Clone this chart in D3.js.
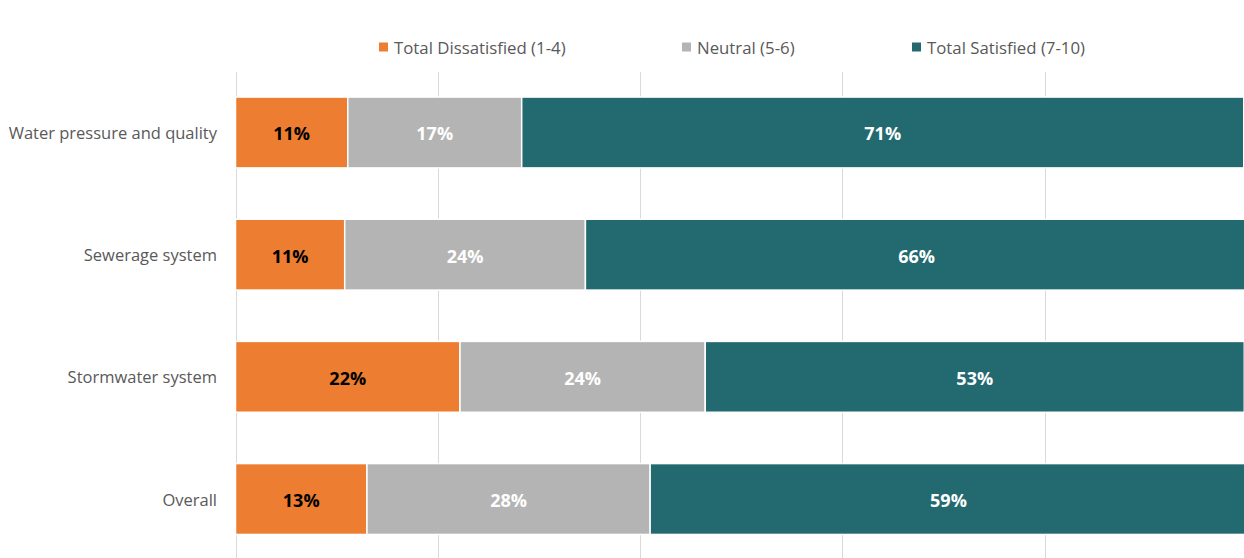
<!DOCTYPE html>
<html>
<head>
<meta charset="utf-8">
<script src="https://cdn.jsdelivr.net/npm/d3@7"></script>
<style>
html,body{margin:0;padding:0;background:#fff;}
svg{display:block;font-family:"Open Sans","Lato",sans-serif;}
</style>
</head>
<body>
<svg id="chart" width="1244" height="558"></svg>
<script>
const categories = ["Water pressure and quality", "Sewerage system", "Stormwater system", "Overall"];
const seriesNames = ["Total Dissatisfied (1-4)", "Neutral (5-6)", "Total Satisfied (7-10)"];
const dissatisfied = [11.1, 10.8, 22.2, 13.0];
const neutral = [17.2, 23.8, 24.25, 28.0];
const satisfied = [71.4, 65.5, 53.3, 59.0];
const dissatisfiedLabels = ["11%", "11%", "22%", "13%"];
const neutralLabels = ["17%", "24%", "24%", "28%"];
const satisfiedLabels = ["71%", "66%", "53%", "59%"];
const xTicks = [0, 20, 40, 60, 80, 100];
const colors = ["#ED7D31", "#B4B4B4", "#236A70"];
const labelColors = ["#000000", "#FFFFFF", "#FFFFFF"];

const svg = d3.select("#chart");
const x = d3.scaleLinear().domain([0, 100]).range([235.5, 1246.8]);
const y = d3.scaleBand().domain(categories).range([71.4, 560.1]).paddingInner(0.42).paddingOuter(0.21);

// gridlines
svg.append("g").selectAll("line").data(xTicks).join("line")
  .attr("x1", d => Math.round(x(d)) + 0.5).attr("x2", d => Math.round(x(d)) + 0.5)
  .attr("y1", 72).attr("y2", 560)
  .attr("stroke", "#D9D9D9").attr("stroke-width", 1);

const values = [dissatisfied, neutral, satisfied];
const labels = [dissatisfiedLabels, neutralLabels, satisfiedLabels];
const rows = categories.map((c, i) => {
  let acc = 0;
  return values.map((s, k) => {
    const seg = {cat: c, k, x0: acc, x1: acc + s[i], label: labels[k][i]};
    acc += s[i];
    return seg;
  });
}).flat();

svg.append("g").selectAll("rect").data(rows).join("rect")
  .attr("x", d => x(d.x0)).attr("width", d => x(d.x1) - x(d.x0))
  .attr("y", d => y(d.cat)).attr("height", y.bandwidth())
  .attr("fill", d => colors[d.k]).attr("stroke", "#fff").attr("stroke-width", 1.5);

svg.append("g").selectAll("text").data(rows).join("text")
  .attr("x", d => (x(d.x0) + x(d.x1)) / 2)
  .attr("y", d => y(d.cat) + y.bandwidth() / 2 + 1)
  .attr("text-anchor", "middle").attr("dominant-baseline", "central")
  .attr("font-size", 18).attr("font-weight", "bold")
  .attr("fill", d => labelColors[d.k]).text(d => d.label);

// category axis labels
svg.append("g").selectAll("text").data(categories).join("text")
  .attr("x", 217).attr("y", d => y(d) + y.bandwidth() / 2)
  .attr("text-anchor", "end").attr("dominant-baseline", "central")
  .attr("font-size", 16.5).attr("fill", "#595959").text(d => d);

// legend
const legendX = [379, 682, 912];
const lg = svg.append("g").selectAll("g").data(seriesNames).join("g")
  .attr("transform", (d, i) => `translate(${legendX[i]},47)`);
lg.append("rect").attr("x", 0).attr("y", -4.5).attr("width", 9).attr("height", 9)
  .attr("fill", (d, i) => colors[i]);
lg.append("text").attr("x", 15).attr("y", 0).attr("dominant-baseline", "central")
  .attr("font-size", 16.8).attr("fill", "#595959").text(d => d);
</script>
</body>
</html>
